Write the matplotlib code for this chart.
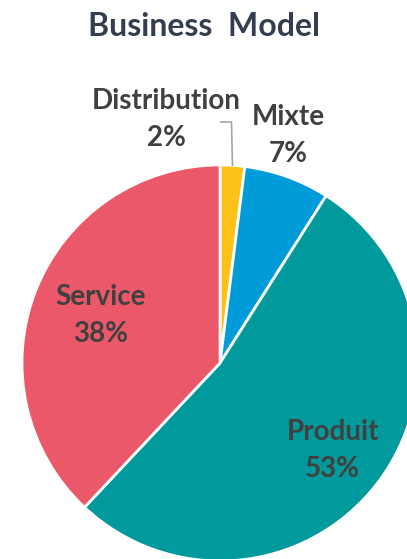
import matplotlib.pyplot as plt
import numpy as np

# Business model split (percent)
labels = ['Distribution', 'Mixte', 'Produit', 'Service']
values = [2, 7, 53, 38]
colors = ['#FDC218', '#009CDA', '#009A9C', '#EA5869']

# label placement: radius (in pie radii) and angle offset (deg) per slice
label_r = [1.26, 1.20, 0.72, 0.65]
label_dang = [16, 3, 0, 0]

plt.rcParams['font.family'] = ['Lato', 'DejaVu Sans']

fig = plt.figure(figsize=(4.07, 5.59), dpi=100)
ax = fig.add_axes([0, 0, 1, 1])

wedges, _ = ax.pie(values, colors=colors, startangle=90, counterclock=False,
                   radius=1, wedgeprops=dict(edgecolor='white', linewidth=2))

ax.set_xlim(-1.111, 0.944)
ax.set_ylim(-0.990, 1.833)
ax.set_aspect('auto')
ax.axis('off')

for w, lab, v, r, da in zip(wedges, labels, values, label_r, label_dang):
    mid = np.deg2rad((w.theta1 + w.theta2) / 2 + da)
    ax.text(r * np.cos(mid), r * np.sin(mid), f'{lab}\n{v}%',
            ha='center', va='center', fontsize=20, fontweight='bold',
            color='#404040', linespacing=1.5)

# leader line for the small Distribution slice
w = wedges[0]
mid = np.deg2rad((w.theta1 + w.theta2) / 2)
x0, y0 = np.cos(mid), np.sin(mid)
ax.plot([x0, x0 - 0.005, x0 - 0.06], [y0, 1.217, 1.217],
        color='#A6A6A6', lw=1.2, clip_on=False)

fig.text(0.50, 0.952, 'Business  Model', ha='center', va='center',
         fontsize=23, fontweight='bold', color='#333F50')

fig.savefig('out.png', dpi=100)
